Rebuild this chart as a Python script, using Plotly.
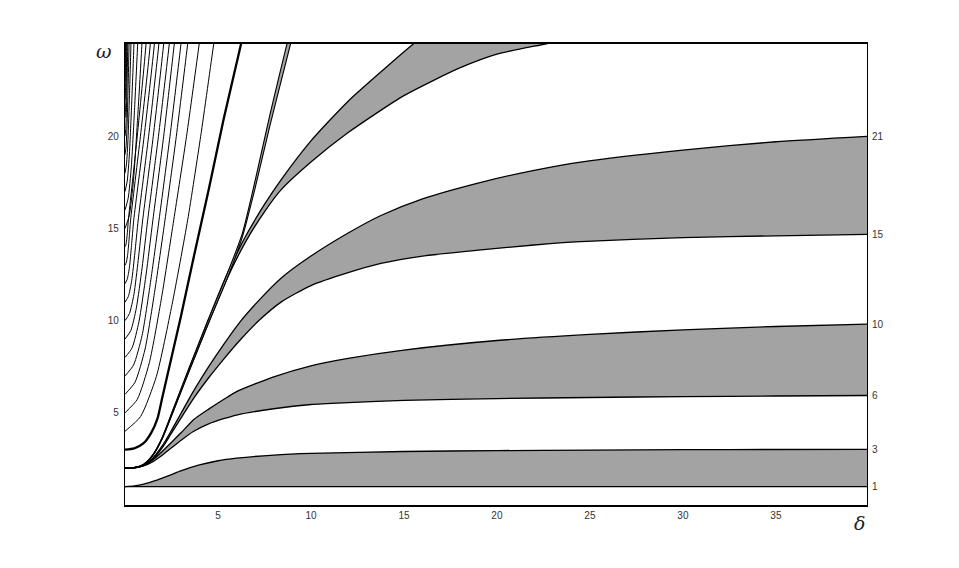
import plotly.graph_objects as go

# ---------------- data ----------------
# band 1 (asymptotes 1 and 3)
B1_DELTA = [0, 0.5, 1, 1.5, 2, 2.5, 3, 4, 5, 6, 8, 10, 15, 20, 25, 30, 35, 40]
B1_LOW = [1, 1, 1, 1, 1, 1, 1, 1, 1, 1, 1, 1, 1, 1, 1, 1, 1, 1]
B1_UP = [1, 1.04, 1.13, 1.28, 1.46, 1.65, 1.85, 2.17, 2.4, 2.54, 2.71, 2.8, 2.9, 2.95, 2.98, 3.0, 3.01, 3.02]

# band 2 (asymptotes 6 and 10)
B2_DELTA = [0, 0.5, 1, 1.5, 2, 2.5, 3, 3.7, 4.5, 5.3, 6, 8, 10, 12, 15, 20, 25, 30, 35, 40]
B2_LOW = [2, 2.02, 2.12, 2.35, 2.7, 3.1, 3.5, 4.0, 4.4, 4.68, 4.88, 5.22, 5.45, 5.55, 5.67, 5.77, 5.83, 5.88, 5.91, 5.94]
B2_UP = [2, 2.02, 2.15, 2.45, 2.9, 3.4, 3.9, 4.64, 5.2, 5.72, 6.15, 6.95, 7.55, 7.95, 8.4, 8.92, 9.25, 9.5, 9.68, 9.81]

# band 3 (asymptotes 15 and 21)
B3_DELTA = [0, 0.5, 1, 1.5, 2, 2.5, 3, 3.7, 4.5, 5.3, 6.24, 7.2, 8.39, 10, 12, 13.76, 16, 19.14, 22, 24.5, 30, 35, 40]
B3_LOW = [2, 2.02, 2.15, 2.5, 3.1, 3.9, 4.7, 5.8, 6.9, 7.9, 9.0, 10.0, 11.0, 11.9, 12.6, 13.1, 13.5, 13.83, 14.1, 14.28, 14.5, 14.6, 14.68]
B3_UP = [2, 2.02, 2.15, 2.55, 3.2, 4.05, 4.95, 6.2, 7.5, 8.7, 10.0, 11.1, 12.3, 13.5, 14.75, 15.7, 16.6, 17.5, 18.15, 18.6, 19.25, 19.7, 20.0]

# band 4 (wide band leaving the top)
B4_DELTA_LOW = [0, 0.5, 1, 1.5, 2, 2.6, 3.5, 4.5, 5.5, 6.5, 7.5, 8.4, 10, 12, 15, 18, 20, 22.6, 24]
B4_LOW = [2, 2.03, 2.2, 2.7, 3.6, 5.1, 7.4, 9.9, 12.3, 14.3, 15.9, 17.1, 18.6, 20.2, 22.2, 23.7, 24.45, 25.0, 25.3]
B4_DELTA_UP = [0, 0.5, 1, 1.5, 2, 2.6, 3.5, 4.5, 5.5, 6.5, 7.5, 8.4, 10, 12, 14, 15.5, 17]
B4_UP = [2, 2.03, 2.2, 2.72, 3.65, 5.2, 7.55, 10.1, 12.55, 14.6, 16.3, 17.65, 19.75, 21.9, 23.7, 25.0, 26.2]

# band 5 (thin band leaving the top near delta = 9)
B5_DELTA = [0, 0.5, 1, 1.5, 2, 2.6, 3.5, 4.5, 5.5, 6.3, 7.0, 7.8, 8.9, 9.3]
B5_LOW = [2, 2.03, 2.2, 2.7, 3.6, 5.1, 7.4, 9.9, 12.3, 14.5, 17.2, 20.6, 25.0, 26.6]
B5_UP = [2, 2.03, 2.2, 2.72, 3.65, 5.2, 7.55, 10.1, 12.55, 14.7, 17.6, 21.2, 25.8, 27.4]

# thick (dotted-looking) curve starting at omega = 3
B6_DELTA = [0, 0.5, 1.0, 1.4, 1.75, 2.0, 2.5, 3.0, 3.73, 4.5, 5.3, 6.24, 6.6]
B6_OMEGA = [3, 3.07, 3.35, 3.9, 4.7, 5.8, 8.0, 10.2, 13.6, 17.1, 20.9, 25, 26.6]

# thin curves starting at omega = 4 ... 24
THIN_DELTA = [
    [0, 0.84, 1.69, 2.53, 3.37, 4.07, 4.77, 5.0],
    [0, 0.66, 1.31, 1.97, 2.62, 3.31, 3.99, 4.2],
    [0, 0.54, 1.08, 1.61, 2.15, 2.76, 3.37, 3.55],
    [0, 0.46, 0.92, 1.37, 1.83, 2.42, 3.01, 3.18],
    [0, 0.38, 0.75, 1.13, 1.5, 2.08, 2.65, 2.81],
    [0, 0.31, 0.61, 0.92, 1.22, 1.8, 2.38, 2.52],
    [0, 0.24, 0.48, 0.71, 0.95, 1.52, 2.08, 2.21],
    [0, 0.18, 0.36, 0.53, 0.71, 1.27, 1.82, 1.93],
    [0, 0.12, 0.24, 0.35, 0.47, 1.03, 1.58, 1.68],
    [0, 0.075, 0.15, 0.225, 0.3, 0.83, 1.36, 1.44],
    [0, 0.045, 0.09, 0.135, 0.18, 0.66, 1.13, 1.2],
    [0, 0.23, 0.455, 0.68, 0.91, 0.96],
    [0, 0.17, 0.34, 0.51, 0.68, 0.72],
    [0, 0.12, 0.24, 0.36, 0.48, 0.51],
    [0, 0.08, 0.16, 0.24, 0.32, 0.34],
    [0, 0.055, 0.11, 0.165, 0.22, 0.235],
    [0, 0.0375, 0.075, 0.1125, 0.15, 0.16],
    [0, 0.025, 0.05, 0.075, 0.1, 0.107],
    [0, 0.0175, 0.035, 0.0525, 0.07, 0.075],
    [0, 0.011, 0.0225, 0.034, 0.045, 0.048],
    [0, 0.006, 0.0125, 0.019, 0.025, 0.027],
]
THIN_OMEGA = [
    [4, 4.80, 6.98, 10.87, 15.45, 20.0, 25, 26.6],
    [5, 5.73, 7.72, 11.27, 15.45, 20.0, 25, 26.6],
    [6, 6.66, 8.46, 11.67, 15.45, 20.0, 25, 26.5],
    [7, 7.59, 9.20, 12.07, 15.45, 20.0, 25, 26.5],
    [8, 8.52, 9.94, 12.47, 15.45, 20.0, 25, 26.5],
    [9, 9.45, 10.68, 12.87, 15.45, 20.0, 25, 26.5],
    [10, 10.38, 11.42, 13.27, 15.45, 20.0, 25, 26.5],
    [11, 11.31, 12.16, 13.67, 15.45, 20.0, 25, 26.5],
    [12, 12.24, 12.90, 14.07, 15.45, 20.0, 25, 26.5],
    [13, 13.17, 13.64, 14.47, 15.45, 20.0, 25, 26.5],
    [14, 14.10, 14.38, 14.87, 15.45, 20.0, 25, 26.5],
    [15, 15.7, 17.6, 21.0, 25, 26.2],
    [16, 16.63, 18.34, 21.4, 25, 26.2],
    [17, 17.56, 19.08, 21.8, 25, 26.2],
    [18, 18.49, 19.82, 22.2, 25, 26.2],
    [19, 19.42, 20.56, 22.6, 25, 26.2],
    [20, 20.35, 21.30, 23.0, 25, 26.2],
    [21, 21.28, 22.04, 23.4, 25, 26.2],
    [22, 22.21, 22.78, 23.8, 25, 26.2],
    [23, 23.14, 23.52, 24.2, 25, 26.2],
    [24, 24.07, 24.26, 24.6, 25, 26.2],
]

RIGHT_TICK_POS = [1.0, 3.02, 5.94, 9.81, 14.68, 20.0]
RIGHT_TICK_TEXT = ["1", "3", "6", "10", "15", "21"]
X_TICKS = [5, 10, 15, 20, 25, 30, 35]
Y_TICKS = [5, 10, 15, 20]

# ---------------- figure ----------------
GRAY = "#a3a3a3"
SM = 0.6
fig = go.Figure()


def band(xl, yl, xu, yu, lw=1.3):
    fig.add_trace(go.Scatter(x=xl, y=yl, mode="lines",
                             line=dict(color="black", width=lw, shape="spline", smoothing=SM),
                             hoverinfo="skip", showlegend=False))
    fig.add_trace(go.Scatter(x=xu, y=yu, mode="lines", fill="tonexty", fillcolor=GRAY,
                             line=dict(color="black", width=lw, shape="spline", smoothing=SM),
                             hoverinfo="skip", showlegend=False))


band(B1_DELTA, B1_LOW, B1_DELTA, B1_UP)
band(B2_DELTA, B2_LOW, B2_DELTA, B2_UP)
band(B3_DELTA, B3_LOW, B3_DELTA, B3_UP)
band(B4_DELTA_LOW, B4_LOW, B4_DELTA_UP, B4_UP)
band(B5_DELTA, B5_LOW, B5_DELTA, B5_UP, lw=1.1)

fig.add_trace(go.Scatter(x=B6_DELTA, y=B6_OMEGA, mode="lines",
                         line=dict(color="black", width=2.3, shape="spline", smoothing=SM),
                         hoverinfo="skip", showlegend=False))

for xs, ys in zip(THIN_DELTA, THIN_OMEGA):
    fig.add_trace(go.Scatter(x=xs, y=ys, mode="lines",
                             line=dict(color="black", width=1.0, shape="spline", smoothing=SM),
                             hoverinfo="skip", showlegend=False))

# invisible trace for the right axis
fig.add_trace(go.Scatter(x=[0, 40], y=[0, 25], yaxis="y2", mode="none",
                         hoverinfo="skip", showlegend=False))

tickfont = dict(family="Liberation Sans, Arial, sans-serif", size=10, color="#333333")

fig.update_layout(
    width=951, height=560,
    margin=dict(l=117, r=92, t=36, b=63, autoexpand=False),
    paper_bgcolor="white", plot_bgcolor="white",
    xaxis=dict(range=[0, 39.9], tickvals=X_TICKS, ticks="", showgrid=False, zeroline=False,
               showline=True, linecolor="black", linewidth=1.5, mirror=True,
               tickfont=tickfont),
    yaxis=dict(range=[0, 25], tickvals=Y_TICKS, ticks="", showgrid=False, zeroline=False,
               showline=True, linecolor="black", linewidth=1.2, mirror=True,
               tickfont=tickfont, ticklabelstandoff=3),
    yaxis2=dict(range=[0, 25], overlaying="y", side="right", tickvals=RIGHT_TICK_POS,
                ticktext=RIGHT_TICK_TEXT, ticks="", showgrid=False, zeroline=False,
                showline=False, tickfont=tickfont, ticklabelstandoff=4),
    annotations=[
        dict(text="<i>ω</i>", xref="paper", yref="paper", x=-0.028, y=0.985,
             xanchor="center", yanchor="middle", showarrow=False,
             font=dict(family="DejaVu Serif, serif", size=19, color="#222222")),
        dict(text="<i>δ</i>", xref="paper", yref="paper", x=0.99, y=-0.04,
             xanchor="center", yanchor="middle", showarrow=False,
             font=dict(family="DejaVu Serif, serif", size=19, color="#222222")),
    ],
)

fig.write_html("out.html")
